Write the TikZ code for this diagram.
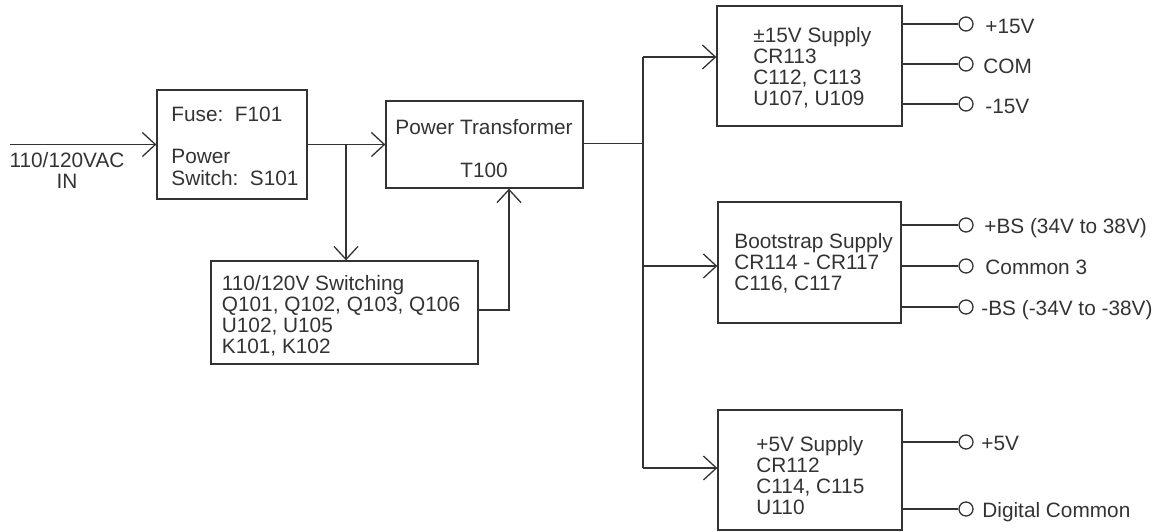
\documentclass[tikz,border=0pt]{standalone}
\usepackage{fontspec}
\setmainfont{Liberation Sans}
\usetikzlibrary{arrows.meta}
\definecolor{ink}{HTML}{333333}
\newcommand\mylines[1]{\begin{tabular}[t]{@{}l@{}}#1\end{tabular}}
\begin{document}
\begin{tikzpicture}[x=0.5pt,y=-0.5pt,
  box/.style={draw=ink, line width=0.65pt, inner sep=0pt, rectangle},
  wire/.style={draw=ink, line width=0.65pt},
  arr/.style={wire, -{Straight Barb[length=6.5pt,width=12pt,line width=0.65pt]}},
  term/.style={circle, draw=ink, line width=0.65pt, fill=white, inner sep=0pt, minimum size=7pt},
  txt/.style={inner sep=0pt, anchor=base west, text=ink, font=\fontsize{10.4}{10.5}\selectfont}]
\useasboundingbox (0,0) rectangle (1155,531);

% boxes
\node[box, minimum width=75pt, minimum height=54.5pt] (fuse) at (232,144.5) {};
\node[box, minimum width=98.5pt, minimum height=43.5pt] (tr) at (484.5,144.5) {};
\node[box, minimum width=133.5pt, minimum height=51.5pt] (sw) at (344.5,312.5) {};
\node[box, minimum width=92.5pt, minimum height=60pt] (pm) at (809.5,66) {};
\node[box, minimum width=91.5pt, minimum height=60.5pt] (bs) at (809.5,262.5) {};
\node[box, minimum width=92pt, minimum height=60pt] (p5) at (810,470) {};

% box texts
\node[txt] (ft1) at (171,121) {Fuse:\ \ F101};
\node[txt] (ft2) at (171,163) {\mylines{Power\\[0.5pt]Switch:\ \ S101}};
\node[txt, anchor=base] (tt1) at (484,134) {Power Transformer};
\node[txt, anchor=base] (tt2) at (484,177) {T100};
\node[txt] (swt) at (221.5,290) {\mylines{110/120V Switching\\Q101, Q102, Q103, Q106\\U102, U105\\K101, K102}};
\node[txt] (pmt) at (753,42) {\mylines{±15V Supply\\CR113\\C112, C113\\U107, U109}};
\node[txt] (bst) at (734,248) {\mylines{Bootstrap Supply\\CR114 - CR117\\C116, C117}};
\node[txt] (p5t) at (756,451) {\mylines{+5V Supply\\CR112\\C114, C115\\U110}};

% input
\coordinate (src) at (10,144.5);
\node[txt, anchor=base] (inlab) at (67,167) {\begin{tabular}[t]{@{}c@{}}110/120VAC\\IN\end{tabular}};
\draw[arr] (src) -- (fuse.west);

% fuse -> transformer, and branch to switching
\draw[arr] (fuse.east) -- (tr.west);
\coordinate (j0) at (346,144.5);
\draw[arr] (j0) -- (j0 |- sw.north);

% switching -> transformer
\coordinate (k) at (509,310);
\draw[arr] (sw.east |- k) -- (k) -- (k |- tr.south);

% bus
\coordinate (b0) at (643,143.5);
\coordinate (bt) at (643,57);
\coordinate (bm) at (643,266);
\coordinate (bb) at (643,468);
\draw[wire] (tr.east |- b0) -- (b0);
\draw[wire] (bt) -- (bb);
\draw[arr] (bt) -- (bt -| pm.west);
\draw[arr] (bm) -- (bm -| bs.west);
\draw[arr] (bb) -- (bb -| p5.west);

% outputs +-15V
\node[term] (o1) at (966,24) {};
\node[term] (o2) at (966,64) {};
\node[term] (o3) at (966,104) {};
\draw[wire] (pm.east |- o1) -- (o1);
\draw[wire] (pm.east |- o2) -- (o2);
\draw[wire] (pm.east |- o3) -- (o3);
\node[txt] (l1) at (985,33) {+15V};
\node[txt] (l2) at (983,73) {COM};
\node[txt] (l3) at (985,113) {-15V};

% outputs bootstrap
\node[term] (o4) at (966,225) {};
\node[term] (o5) at (966,266) {};
\node[term] (o6) at (966,307) {};
\draw[wire] (bs.east |- o4) -- (o4);
\draw[wire] (bs.east |- o5) -- (o5);
\draw[wire] (bs.east |- o6) -- (o6);
\node[txt] (l4) at (984,233) {+BS (34V to 38V)};
\node[txt] (l5) at (985,274) {Common 3};
\node[txt] (l6) at (981,315) {-BS (-34V to -38V)};

% outputs +5V
\node[term] (o7) at (966,442) {};
\node[term] (o8) at (966,509) {};
\draw[wire] (p5.east |- o7) -- (o7);
\draw[wire] (p5.east |- o8) -- (o8);
\node[txt] (l7) at (981,450) {+5V};
\node[txt] (l8) at (982,517) {Digital Common};
\end{tikzpicture}
\end{document}
